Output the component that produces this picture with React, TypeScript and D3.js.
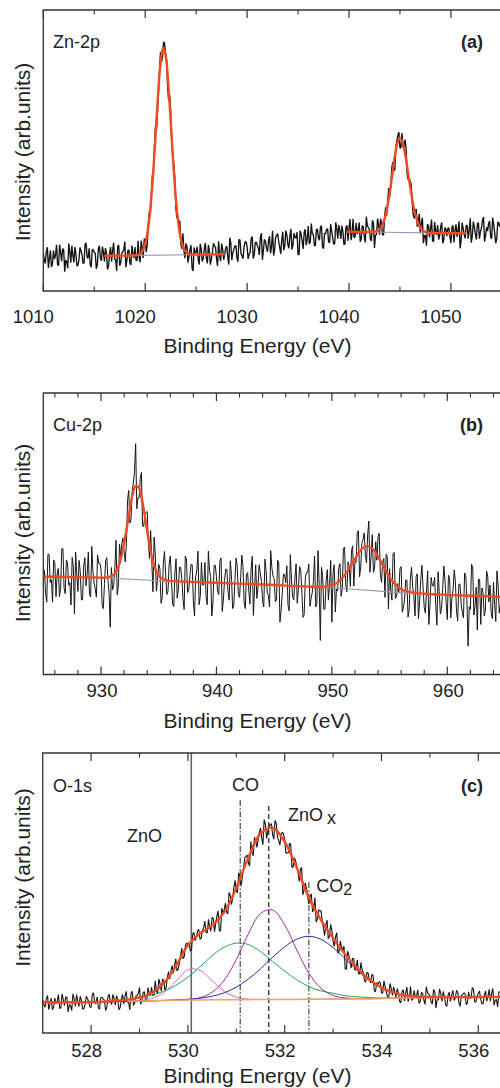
import React from 'react';
import * as d3 from 'd3';

// ---------- Zn-2p (panel a) ----------
// counts read on a 0.2 eV grid, plus the readings that fall half-way between
const znStart = 1010;
const znStep = 0.2;
const znCounts = [
  13.6, 9.8, 15.6, 11.5, 8.5, 14.4, 12.8, 9.3, 16.5, 10.6,
  14.8, 11.0, 8.1, 14.0, 16.1, 10.2, 13.3, 9.2, 15.5, 13.0,
  10.0, 17.1, 11.7, 9.5, 14.6, 13.8, 7.9, 15.0, 12.0, 15.8,
  10.4, 13.4, 8.8, 15.6, 14.3, 11.3, 7.1, 16.4, 10.1, 13.9,
  17.6, 10.9, 14.7, 9.3, 13.1, 15.6, 10.8, 12.3, 17.9, 11.8,
  18.6, 16.5, 28.2, 34.0, 41.4, 58.3, 63.1, 78.1, 81.5, 88.7,
  84.6, 72.7, 69.8, 53.3, 45.7, 30.3, 26.6, 25.0, 15.0, 14.5,
  16.9, 10.1, 14.8, 8.0, 15.5, 13.8, 11.3, 16.8, 10.5, 15.1,
  11.7, 16.4, 9.4, 13.8, 15.9, 11.4, 17.7, 10.6, 15.0, 13.0,
  16.0, 9.4, 17.1, 13.7, 16.0, 11.9, 18.3, 13.3, 11.5, 17.4,
  15.8, 13.0, 18.6, 11.6, 17.2, 16.2, 12.8, 20.6, 14.4, 17.6,
  13.9, 19.5, 15.9, 12.6, 19.1, 20.4, 15.5, 18.2, 14.5, 21.5,
  16.5, 19.6, 14.7, 20.6, 18.8, 12.9, 21.5, 17.8, 20.8, 16.3,
  23.1, 17.3, 20.4, 16.2, 21.8, 18.9, 22.8, 15.8, 20.5, 21.9,
  17.4, 23.8, 18.8, 17.0, 22.1, 23.5, 18.5, 21.2, 16.6, 23.4,
  22.3, 18.1, 25.7, 19.4, 20.3, 24.4, 18.6, 22.8, 17.3, 23.2,
  21.9, 17.8, 24.1, 20.0, 25.8, 20.0, 23.6, 20.2, 29.8, 32.1,
  33.6, 43.8, 42.8, 51.1, 55.6, 50.8, 56.2, 50.5, 50.8, 39.6,
  39.0, 31.5, 25.8, 29.2, 24.6, 20.6, 26.1, 19.7, 16.1, 23.4,
  22.1, 17.8, 24.6, 20.0, 18.3, 22.9, 17.0, 22.5, 19.5, 22.5,
  17.0, 23.4, 21.7, 19.3, 24.8, 17.8, 22.4, 18.7, 23.3, 21.8,
  17.2, 24.7, 20.2, 24.0, 18.6, 22.4, 26.3, 19.6, 21.3, 24.9,
  18.6, 23.7, 17.0, 24.6, 22.9, 20.4, 26.0, 19.7, 24.3,
];
const znCountsMid = [
  10.9, 14.1, 8.2, 14.5, 9.6, 11.4, 16.4, 9.1, 13.7, 15.0,
  6.9, 10.5, 16.9, 10.1, 12.8, 15.6, 8.9, 11.1, 14.3, 9.8,
  16.6, 12.0, 15.2, 8.4, 14.7, 13.4, 9.3, 16.1, 10.7, 13.9,
  15.3, 7.7, 13.1, 10.4, 17.2, 11.2, 15.8, 9.0, 13.5, 14.8,
  8.5, 14.4, 9.9, 16.2, 11.7, 10.9, 17.9, 10.2, 15.6, 18.4,
  13.8, 23.2, 27.0, 41.1, 50.5, 56.9, 70.5, 85.0, 83.2, 88.1,
  81.8, 67.8, 64.1, 48.2, 40.6, 26.0, 24.2, 16.7, 20.5, 11.7,
  15.8, 12.3, 16.3, 7.1, 13.5, 15.7, 9.4, 14.8, 11.6, 17.1,
  9.8, 14.1, 11.5, 17.0, 15.6, 8.9, 12.7, 16.9, 11.1, 15.3,
  12.2, 19.0, 11.0, 14.8, 16.2, 10.4, 18.2, 12.5, 15.7, 17.6,
  11.4, 13.8, 19.4, 12.8, 17.4, 15.3, 19.1, 11.1, 18.4, 15.4,
  17.9, 13.4, 21.4, 14.7, 19.8, 17.7, 13.2, 21.1, 16.2, 20.0,
  15.2, 22.1, 16.3, 19.1, 21.0, 13.0, 20.3, 15.0, 22.0, 18.4,
  16.8, 24.0, 20.1, 16.1, 22.1, 18.1, 23.2, 15.1, 20.3, 22.1,
  17.3, 21.5, 16.6, 24.4, 18.6, 21.4, 23.3, 16.6, 22.7, 17.8,
  25.6, 20.2, 18.9, 24.3, 21.6, 17.5, 23.3, 19.3, 26.5, 22.5,
  18.4, 25.2, 15.3, 20.0, 23.6, 25.8, 19.8, 26.8, 26.8, 36.6,
  37.4, 45.9, 43.2, 53.5, 56.5, 51.1, 51.6, 53.9, 41.9, 40.2,
  38.2, 27.3, 28.5, 22.9, 27.5, 24.1, 17.0, 19.8, 23.7, 19.1,
  25.4, 17.6, 21.3, 23.5, 19.9, 24.4, 18.1, 22.2, 22.2, 19.4,
  22.7, 17.3, 23.7, 21.5, 15.2, 24.3, 20.3, 23.4, 18.6, 25.9,
  19.6, 22.9, 18.3, 24.3, 21.1, 25.3, 17.6, 22.7, 24.0, 19.2,
  26.1, 20.6, 18.5, 23.9, 25.3, 20.0, 22.7, 17.6,
];
const znFit1: [number, number][] = [
  [1016, 12.5], [1017, 12.55], [1018, 12.6], [1018.5, 12.63], [1019, 12.72], [1019.25, 12.88],
  [1019.5, 13.32], [1019.75, 14.41], [1020, 16.82], [1020.25, 21.4], [1020.5, 29.1], [1020.75, 40.4],
  [1021, 54.5], [1021.25, 69.2], [1021.5, 80.9], [1021.75, 86.5], [1022, 84.1], [1022.25, 74.5],
  [1022.5, 60.6], [1022.75, 45.9], [1023, 33.3], [1023.25, 24.2], [1023.5, 18.5], [1023.75, 15.3],
  [1024, 13.9], [1024.25, 13.25], [1024.5, 13.02], [1025, 12.96], [1026, 13.01], [1027, 13.06], [1027.8, 13.1],
];
const znFit2: [number, number][] = [
  [1039.8, 21.1], [1041, 21.04], [1042, 21.0], [1042.5, 21.1], [1042.75, 21.36], [1043, 22.0],
  [1043.25, 23.34], [1043.5, 25.78], [1043.75, 29.7], [1044, 35.1], [1044.25, 41.6], [1044.5, 48.0],
  [1044.75, 52.7], [1045, 54.5], [1045.25, 52.9], [1045.5, 48.9], [1045.75, 43.2], [1046, 37.2],
  [1046.25, 31.7], [1046.5, 27.4], [1046.75, 24.4], [1047, 22.6], [1047.25, 21.5], [1047.5, 21.0],
  [1047.75, 20.75], [1048, 20.65], [1049, 20.6], [1050, 20.57], [1051.5, 20.5],
];
const znBase1: [number, number][] = [[1016, 12.5], [1027.8, 13.1]];
const znBase2: [number, number][] = [[1039.8, 21.1], [1051.5, 20.5]];
const znMajor = [1010, 1020, 1030, 1040, 1050];
const znMinor = [1015, 1025, 1035, 1045, 1055];

// ---------- Cu-2p (panel b) ----------
const cuStart = 925;
const cuStep = 0.2;
const cuCounts = [
  37.7, 28.7, 42.7, 32.7, 25.7, 39.7, 35.7, 27.7, 44.7, 30.7,
  40.7, 31.7, 24.7, 38.5, 43.5, 29.5, 36.5, 26.5, 41.5, 35.5,
  28.5, 45.5, 32.5, 27.5, 39.5, 37.5, 23.4, 40.4, 33.5, 16.8,
  30.1, 38.0, 28.3, 46.4, 46.4, 43.6, 46.4, 65.4, 55.1, 68.0,
  82.0, 62.8, 69.7, 52.8, 57.1, 57.9, 41.1, 40.0, 48.8, 29.6,
  39.1, 25.3, 39.8, 35.5, 29.4, 42.1, 25.1, 36.1, 27.1, 38.1,
  34.1, 23.1, 41.1, 30.1, 39.1, 25.8, 34.8, 43.8, 27.8, 31.8,
  39.8, 24.8, 36.8, 20.8, 38.8, 34.8, 28.4, 41.4, 26.4, 37.4,
  29.4, 40.4, 23.4, 33.4, 38.4, 27.4, 42.4, 25.4, 35.4, 30.0,
  37.0, 21.0, 39.0, 31.0, 36.0, 26.0, 41.0, 29.0, 24.0, 38.0,
  34.0, 26.6, 39.6, 22.6, 35.6, 32.6, 24.6, 42.6, 27.6, 34.3,
  25.3, 38.3, 29.3, 21.3, 36.3, 39.3, 27.1, 33.1, 24.0, 44.0,
  12.1, 35.1, 23.2, 37.3, 32.4, 18.6, 39.0, 30.4, 38.0, 27.8,
  44.7, 31.8, 40.0, 31.3, 45.7, 40.1, 50.5, 34.7, 46.6, 50.3,
  39.6, 54.5, 42.1, 36.3, 47.2, 48.9, 35.5, 39.9, 27.4, 42.0,
  37.6, 26.4, 43.4, 27.6, 28.9, 38.3, 23.9, 33.6, 20.4, 34.2,
  31.1, 20.8, 35.8, 25.8, 38.8, 23.8, 29.8, 17.8, 34.5, 31.5,
  24.5, 36.5, 21.5, 30.5, 33.5, 19.5, 34.1, 27.1, 37.1, 22.1,
  32.1, 25.1, 20.1, 35.1, 10.1, 23.1, 38.1, 24.1, 15.8, 33.8,
  30.8, 20.8, 36.8, 25.8, 21.8, 32.8, 18.8, 31.8, 24.8,
];
const cuCountsMid = [
  36.7, 25.7, 42.7, 33.7, 40.7, 27.7, 37.7, 30.7, 44.7, 28.7,
  39.7, 32.7, 41.6, 21.5, 35.5, 40.5, 26.5, 38.5, 31.5, 43.5,
  27.5, 36.5, 30.5, 42.5, 39.5, 24.5, 32.4, 41.5, 28.7, 38.0,
  31.6, 47.7, 31.4, 41.9, 48.5, 40.0, 61.9, 53.8, 65.1, 72.0,
  58.9, 62.8, 71.8, 52.5, 57.5, 47.5, 51.1, 29.4, 42.7, 33.9,
  37.7, 27.1, 43.7, 28.4, 39.2, 34.1, 24.1, 41.1, 30.1, 38.1,
  27.1, 42.1, 29.1, 35.1, 39.0, 20.8, 36.8, 24.8, 39.8, 31.8,
  27.8, 43.8, 34.8, 25.8, 38.8, 29.6, 40.4, 22.4, 33.4, 37.4,
  26.4, 35.4, 24.4, 41.4, 28.4, 34.4, 38.4, 23.4, 36.2, 25.0,
  42.0, 30.0, 27.0, 39.0, 33.0, 24.0, 37.0, 28.0, 44.0, 35.0,
  25.8, 40.6, 18.6, 28.6, 35.6, 38.6, 22.6, 33.6, 26.5, 39.3,
  30.3, 37.3, 20.3, 34.3, 36.3, 24.2, 29.1, 42.1, 25.0, 32.1,
  38.1, 23.2, 33.3, 26.4, 40.5, 35.8, 22.2, 29.7, 39.4, 30.3,
  45.3, 29.4, 38.7, 44.0, 31.4, 39.8, 51.1, 38.2, 48.0, 42.5,
  49.6, 36.3, 49.7, 37.8, 40.6, 50.2, 32.7, 41.2, 42.7, 23.3,
  30.0, 42.9, 27.0, 32.3, 37.6, 22.1, 26.8, 33.5, 23.3, 38.2,
  28.0, 34.8, 19.8, 33.8, 30.8, 21.8, 36.8, 24.7, 31.5, 34.5,
  17.5, 29.5, 23.5, 38.5, 25.5, 35.3, 20.1, 30.1, 33.1, 19.1,
  32.1, 22.1, 36.1, 26.1, 24.1, 39.1, 21.1, 31.0, 33.8, 17.8,
  28.8, 22.8, 34.8, 31.8, 19.8, 24.8, 36.8, 21.8,
];
const cuFit: [number, number][] = [
  [925, 34.8], [927, 34.65], [929, 34.5], [930, 34.4], [930.5, 34.44], [931, 35.14], [931.25, 36.24],
  [931.5, 38.3], [931.75, 41.7], [932, 46.6], [932.25, 52.6], [932.5, 58.9], [932.75, 64.2], [933, 67.0],
  [933.25, 66.6], [933.5, 63.1], [933.75, 57.4], [934, 50.9], [934.25, 44.9], [934.5, 40.2], [934.75, 37.0],
  [935, 35.1], [935.5, 33.6], [936, 33.25], [938, 32.9], [940, 32.6], [942, 32.3], [945, 31.8], [948, 31.2],
  [949, 31.1], [949.5, 31.2], [950, 31.65], [950.5, 32.7], [951, 34.7], [951.5, 37.6], [952, 41.1],
  [952.5, 44.2], [953, 45.6], [953.5, 44.8], [954, 41.9], [954.5, 38.2], [955, 34.6], [955.5, 32.0],
  [956, 30.3], [956.5, 29.5], [957, 29.1], [958, 28.7], [960, 28.3], [962, 28.0], [965, 27.5],
];
const cuBase: [number, number][] = [
  [925, 34.8], [930, 34.4], [935, 33.3], [940, 32.6], [945, 31.8], [950, 30.8], [955, 29.35], [960, 28.3], [965, 27.5],
];
const cuMajor = [930, 940, 950, 960];
const cuMinor = [926, 928, 932, 934, 936, 938, 942, 944, 946, 948, 952, 954, 956, 958, 962, 964];

// ---------- O-1s (panel c) ----------
const oStart = 527;
const oStep = 0.05;
const oCounts = [
  11.9, 9.2, 13.4, 10.4, 8.3, 12.5, 11.3, 8.9, 14.0, 9.8,
  12.8, 10.1, 8.0, 12.2, 13.7, 9.5, 11.6, 8.6, 13.1, 11.3,
  9.2, 14.4, 10.5, 9.0, 12.7, 12.1, 8.0, 13.1, 11.1, 13.8,
  10.0, 12.2, 9.0, 13.8, 13.0, 11.0, 8.2, 14.9, 10.6, 13.4,
  16.3, 11.8, 14.8, 11.3, 14.3, 16.4, 13.5, 15.1, 19.3, 14.9,
  18.9, 16.2, 21.9, 22.0, 21.4, 26.5, 22.9, 27.7, 26.5, 31.3,
  31.6, 29.2, 35.4, 33.0, 36.5, 33.5, 36.8, 40.0, 35.8, 37.6,
  41.3, 36.2, 41.9, 36.4, 44.6, 43.9, 43.2, 50.2, 45.9, 52.1,
  50.6, 57.2, 52.6, 58.7, 62.9, 60.7, 68.4, 63.3, 69.0, 68.7,
  73.2, 67.2, 74.8, 72.1, 74.5, 70.9, 75.9, 70.1, 67.1, 71.7,
  69.1, 64.4, 67.8, 59.1, 62.5, 59.4, 54.1, 59.1, 51.0, 51.7,
  46.0, 49.6, 44.4, 39.6, 44.0, 43.6, 37.5, 38.6, 33.7, 38.8,
  32.7, 34.3, 28.4, 32.8, 29.6, 22.9, 29.2, 25.5, 26.6, 22.3,
  26.1, 21.1, 22.4, 18.6, 21.7, 18.8, 20.9, 15.2, 18.0, 18.3,
  14.4, 18.6, 14.6, 12.7, 16.0, 16.5, 12.7, 14.3, 10.8, 15.4,
  14.3, 11.2, 16.6, 12.0, 12.5, 15.4, 11.2, 14.1, 10.2, 14.4,
  13.5, 10.4, 14.9, 11.9, 15.8, 11.3, 13.1, 9.5, 14.6, 13.7,
  11.6, 15.2, 10.7, 13.4, 14.3, 10.1, 14.7, 12.6, 15.6, 11.1,
  14.1, 12.0, 10.5, 15.0, 13.2, 11.4, 15.9, 11.7, 9.3, 14.7,
];
const oCountsMid = [
  10.1, 12.2, 8.3, 12.5, 9.2, 10.4, 13.7, 8.9, 11.9, 12.8,
  7.4, 9.8, 14.0, 9.5, 11.3, 13.1, 8.6, 10.1, 12.2, 9.2,
  13.7, 10.8, 12.9, 8.5, 12.7, 11.8, 9.2, 13.8, 10.2, 12.4,
  13.3, 8.3, 12.0, 10.3, 14.9, 11.1, 14.2, 9.9, 13.1, 14.1,
  10.2, 14.4, 11.7, 16.2, 13.5, 13.4, 18.6, 13.9, 17.6, 19.2,
  15.3, 19.8, 19.3, 24.1, 24.4, 22.2, 25.2, 30.3, 27.3, 32.1,
  32.3, 29.9, 35.9, 34.0, 37.0, 33.8, 37.4, 35.8, 40.6, 36.4,
  40.9, 39.1, 43.6, 36.5, 43.0, 46.4, 42.5, 49.1, 48.0, 54.5,
  50.1, 55.9, 55.7, 62.6, 63.6, 59.6, 64.5, 69.8, 66.3, 71.6,
  69.8, 76.2, 69.5, 73.1, 74.7, 69.2, 75.0, 68.8, 70.6, 71.2,
  64.2, 64.3, 67.3, 59.4, 61.5, 57.5, 58.6, 49.3, 53.6, 48.6,
  48.8, 43.2, 48.4, 40.8, 43.6, 40.1, 34.8, 40.3, 34.6, 36.6,
  30.9, 35.8, 29.4, 30.6, 31.0, 22.8, 27.8, 23.2, 26.7, 23.3,
  21.2, 25.2, 21.7, 18.2, 21.3, 17.9, 20.6, 14.7, 17.4, 18.0,
  14.2, 16.6, 12.9, 17.7, 13.4, 14.9, 15.9, 11.2, 14.9, 11.4,
  16.4, 12.7, 11.7, 15.2, 13.3, 10.6, 14.5, 11.7, 16.5, 13.8,
  11.0, 15.5, 8.9, 11.9, 14.0, 14.9, 10.1, 13.4, 11.3, 15.2,
  12.5, 14.6, 9.5, 13.7, 14.3, 10.7, 12.3, 16.2, 11.1, 13.2,
  15.0, 10.5, 13.5, 11.4, 15.6, 14.1, 9.9, 12.0, 14.7,
];
// fit components on a 0.25 eV grid from 527.0 eV
const oGridStart = 527;
const oGridStep = 0.25;
const oBackground = [
  11.0, 11.0, 11.0, 11.0, 11.05, 11.1, 11.2, 11.3, 11.4, 11.5, 11.6, 11.7, 11.75, 11.8, 11.85, 11.85,
  11.9, 11.9, 11.95, 11.95, 12.0, 12.0, 12.05, 12.05, 12.1, 12.15, 12.2, 12.25, 12.3, 12.4, 12.5,
  12.6, 12.7, 12.75, 12.8, 12.85, 12.9, 12.9, 12.9,
];
const oZnO = [
  0, 0, 0, 0, 0, 0, 0, 0, 0.2, 0.8, 2.8, 6.7, 10.9, 10.6, 6.8, 3.0, 0.9, 0.2, 0, 0,
  0, 0, 0, 0, 0, 0, 0, 0, 0, 0, 0, 0, 0, 0, 0, 0, 0, 0, 0,
];
const oCO = [
  0, 0, 0, 0, 0, 0.1, 0.3, 0.6, 1.1, 2.0, 3.3, 5.3, 8.2, 11.8, 15.8, 18.8, 20.2, 19.7, 17.2, 13.6,
  10.1, 7.0, 4.5, 3.0, 2.1, 1.2, 0.7, 0.4, 0.2, 0.1, 0, 0, 0, 0, 0, 0, 0, 0, 0,
];
const oZnOx = [
  0, 0, 0, 0, 0, 0, 0, 0, 0, 0, 0, 0, 0.2, 0.8, 2.7, 7.0, 14.3, 23.5, 30.7, 32.0,
  26.6, 17.6, 9.3, 3.9, 1.3, 0.4, 0.1, 0, 0, 0, 0, 0, 0, 0, 0, 0, 0, 0, 0,
];
const oCO2 = [
  0, 0, 0, 0, 0, 0, 0, 0, 0, 0, 0.05, 0.1, 0.3, 0.6, 1.3, 2.5, 4.5, 7.4, 11.0, 15.1,
  18.8, 21.5, 22.5, 21.4, 18.4, 14.4, 10.1, 6.5, 3.7, 1.9, 0.9, 0.4, 0.15, 0.05, 0, 0, 0, 0, 0,
];
const oFit = [
  11.0, 11.0, 11.0, 11.0, 11.05, 11.2, 11.5, 11.9, 12.7, 14.3, 17.7, 23.8, 31.3, 35.6, 38.45, 43.1,
  51.8, 62.7, 71.2, 73.3, 68.3, 59.0, 48.35, 40.35, 33.9, 28.05, 23.1, 19.1, 16.2, 14.45, 13.4,
  13.0, 12.85, 12.8, 12.8, 12.85, 12.85, 12.9, 12.9,
];
const oMarkerEnergy = [530.07, 531.08, 531.67, 532.5];
const oMarkerTop = [100, 83.2, 81.1, 53.9];
const oMajor = [528, 530, 532, 534, 536];
const oMinor = [529, 531, 533, 535];

const FONT = '"Liberation Sans", Arial, Helvetica, sans-serif';
const INK = '#222';
const FIT = '#f04a22';

type Pt = [number, number];
type Scale = d3.ScaleLinear<number, number>;

// on-grid readings and the half-step readings, merged in energy order
const spectrum = (start: number, step: number, onGrid: number[], between: number[]): Pt[] =>
  [
    ...onGrid.map((v, i) => [start + step * i, v] as Pt),
    ...between.map((v, i) => [start + step * (i + 0.5), v] as Pt),
  ].sort((a, b) => a[0] - b[0]);

function pathOf(x: Scale, y: Scale, pts: Pt[], curve: d3.CurveFactory = d3.curveLinear) {
  return d3.line<Pt>().x(d => x(d[0])).y(d => y(d[1])).curve(curve)(pts) || '';
}

const smooth = d3.curveCatmullRom.alpha(0.5);

interface PanelProps {
  x: Scale;
  y: Scale;
  major: number[];
  minor: number[];
  name: string;
  tag: string;
  nameY: number;
  tickY: number;
  tickDx: number;
  titleY: number;
  yTitleY: number;
  children?: React.ReactNode;
}

function Panel({ x, y, major, minor, name, tag, nameY, tickY, tickDx, titleY, yTitleY, children }: PanelProps) {
  const left = x.range()[0];
  const top = y.range()[1];
  const bottom = y.range()[0];
  const right = 520;
  return (
    <g>
      {children}
      <path d={`M${right},${top}H${left}V${bottom}H${right}`} fill="none" stroke="#333" strokeWidth={1.3} />
      {major.map(v => (
        <g key={'M' + v}>
          <line x1={x(v)} x2={x(v)} y1={bottom} y2={bottom - 8} stroke="#333" strokeWidth={1.2} />
          <line x1={x(v)} x2={x(v)} y1={top} y2={top + 8} stroke="#333" strokeWidth={1.2} />
          <text x={x(v) + tickDx} y={tickY} textAnchor="middle" fontSize={18.5} fill={INK}>{v}</text>
        </g>
      ))}
      {minor.map(v => (
        <g key={'m' + v}>
          <line x1={x(v)} x2={x(v)} y1={bottom} y2={bottom - 4.5} stroke="#333" strokeWidth={1.1} />
          <line x1={x(v)} x2={x(v)} y1={top} y2={top + 4.5} stroke="#333" strokeWidth={1.1} />
        </g>
      ))}
      <text x={257.5} y={titleY} textAnchor="middle" fontSize={21} fill={INK}>Binding Energy (eV)</text>
      <text transform={`translate(30,${yTitleY}) rotate(-90)`} textAnchor="middle" fontSize={21} fill={INK}>
        Intensity (arb.units)
      </text>
      <text x={53} y={nameY} fontSize={18} fill={INK}>{name}</text>
      <text x={483} y={nameY} textAnchor="end" fontSize={18} fontWeight="bold" fill={INK}>{tag}</text>
    </g>
  );
}

export default function App() {
  // panel a
  const xA = d3.scaleLinear().domain([1010, 1060]).range([43.3, 43.3 + 50 * 10.19]);
  const yA = d3.scaleLinear().domain([0, 100]).range([291, 10]);
  // panel b
  const xB = d3.scaleLinear().domain([925, 970]).range([43.3, 43.3 + 45 * 11.543]);
  const yB = d3.scaleLinear().domain([0, 100]).range([674.5, 393]);
  // panel c
  const xC = d3.scaleLinear().domain([527, 537]).range([42.7, 42.7 + 10 * 48.4]);
  const yC = d3.scaleLinear().domain([0, 100]).range([1033, 753]);

  const oGrid = oBackground.map((_, i) => oGridStart + oGridStep * i);
  const onBg = (comp: number[]): Pt[] =>
    oGrid.map((e, i) => [e, oBackground[i] + comp[i]] as Pt).slice(4, 35);
  const comps: { vals: number[]; color: string }[] = [
    { vals: oZnO, color: '#de6cc8' },
    { vals: oCO, color: '#22a85a' },
    { vals: oZnOx, color: '#a22cb2' },
    { vals: oCO2, color: '#2a2f9e' },
  ];
  const markerStyle = [
    { stroke: '#666', width: 1.6, dash: undefined as string | undefined },
    { stroke: '#222', width: 1, dash: '6,2,1.5,2' },
    { stroke: '#444', width: 1.5, dash: '5,3' },
    { stroke: '#222', width: 1, dash: '6,2,1.5,2' },
  ];

  return (
    <svg width={500} height={1088} style={{ position: 'absolute', left: 0, top: 0, background: '#fff' }}>
      <g fontFamily={FONT}>
        <Panel x={xA} y={yA} major={znMajor} minor={znMinor} name="Zn-2p" tag="(a)"
          nameY={47.5} tickY={323.3} tickDx={-10} titleY={353.3} yTitleY={152}>
          <path d={pathOf(xA, yA, spectrum(znStart, znStep, znCounts, znCountsMid))}
            fill="none" stroke="#141414" strokeWidth={1.35} strokeLinejoin="bevel" />
          <path d={pathOf(xA, yA, znBase1)} fill="none" stroke="#9599b8" strokeWidth={1.1} />
          <path d={pathOf(xA, yA, znBase2)} fill="none" stroke="#9599b8" strokeWidth={1.1} />
          <path d={pathOf(xA, yA, znFit1, smooth)} fill="none" stroke={FIT} strokeWidth={2.4} />
          <path d={pathOf(xA, yA, znFit2, smooth)} fill="none" stroke={FIT} strokeWidth={2.4} />
        </Panel>

        <Panel x={xB} y={yB} major={cuMajor} minor={cuMinor} name="Cu-2p" tag="(b)"
          nameY={431} tickY={696.7} tickDx={1} titleY={728.3} yTitleY={533}>
          <path d={pathOf(xB, yB, spectrum(cuStart, cuStep, cuCounts, cuCountsMid))}
            fill="none" stroke="#161616" strokeWidth={1} strokeLinejoin="bevel" />
          <path d={pathOf(xB, yB, cuBase)} fill="none" stroke="#9599b8" strokeWidth={1.1} />
          <path d={pathOf(xB, yB, cuFit, smooth)} fill="none" stroke={FIT} strokeWidth={2.4} />
        </Panel>

        <Panel x={xC} y={yC} major={oMajor} minor={oMinor} name="O-1s" tag="(c)"
          nameY={791.5} tickY={1056.7} tickDx={-4.5} titleY={1083.3} yTitleY={877.5}>
          {oMarkerEnergy.map((e, i) => (
            <line key={'mk' + i} x1={xC(e)} x2={xC(e)} y1={yC(oMarkerTop[i])} y2={yC(0)}
              stroke={markerStyle[i].stroke} strokeWidth={markerStyle[i].width} strokeDasharray={markerStyle[i].dash} />
          ))}
          <path d={pathOf(xC, yC, spectrum(oStart, oStep, oCounts, oCountsMid))}
            fill="none" stroke="#161616" strokeWidth={1.1} strokeLinejoin="bevel" />
          {comps.map((c, i) => (
            <path key={'c' + i} d={pathOf(xC, yC, onBg(c.vals), smooth)} fill="none" stroke={c.color} strokeWidth={1} />
          ))}
          <path d={pathOf(xC, yC, oGrid.map((e, i) => [e, oBackground[i]] as Pt).slice(7, 35))}
            fill="none" stroke="#f2a45a" strokeWidth={1.5} />
          <path d={pathOf(xC, yC, oGrid.map((e, i) => [e, oFit[i]] as Pt), smooth)} fill="none" stroke={FIT} strokeWidth={2.4} />
          <text x={xC(528.74)} y={yC(68.2)} fontSize={18} fill={INK}>ZnO</text>
          <text x={xC(530.91)} y={yC(86.4)} fontSize={18} fill={INK}>CO</text>
          <text x={xC(532.07)} y={yC(75.7)} fontSize={18} fill={INK}>
            ZnO<tspan dx={4} dy={3}>x</tspan>
          </text>
          <text x={xC(532.65)} y={yC(50.25)} fontSize={18} fill={INK}>
            CO<tspan dy={2.5} fontSize={16}>2</tspan>
          </text>
        </Panel>
      </g>
    </svg>
  );
}
